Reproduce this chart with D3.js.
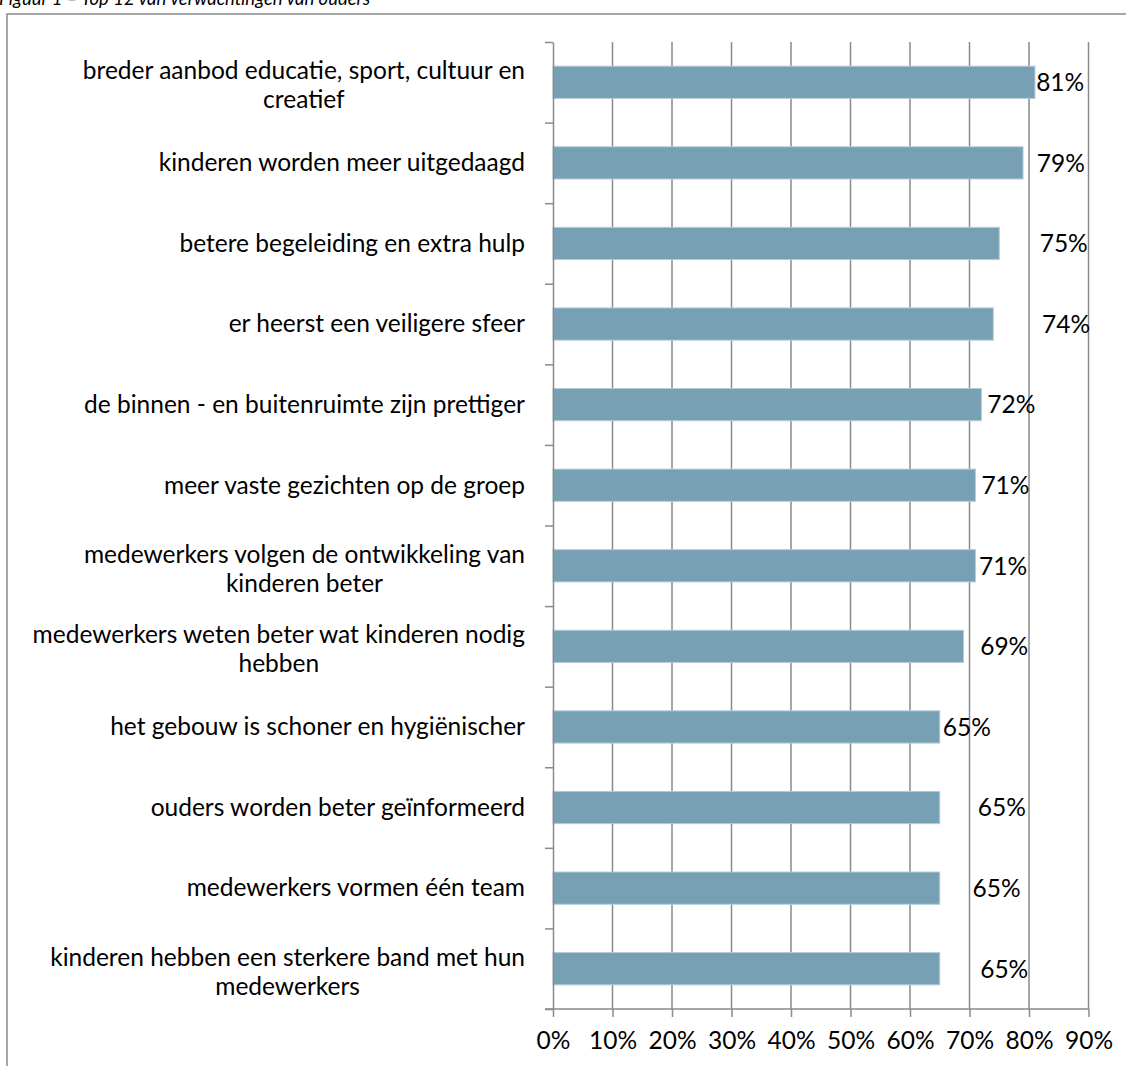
<!DOCTYPE html>
<html>
<head>
<meta charset="utf-8">
<script src="https://cdn.jsdelivr.net/npm/d3@7"></script>
<style>
  body { margin: 0; background: #fff; }
  svg { display: block; }
  text { font-family: Lato, "Open Sans", sans-serif; fill: #000; }
</style>
</head>
<body>
<script>
const w = 1126;
const h = 1066;

const title = "Figuur 1 \u2013 Top 12 van verwachtingen van ouders";

// categories, top to bottom (\n = line break as in the original)
const categories = [
    "breder aanbod educatie, sport, cultuur en\ncreatief",
    "kinderen worden meer uitgedaagd",
    "betere begeleiding en extra hulp",
    "er heerst een veiligere sfeer",
    "de binnen - en buitenruimte zijn prettiger",
    "meer vaste gezichten op de groep",
    "medewerkers volgen de ontwikkeling van\nkinderen beter",
    "medewerkers weten beter wat kinderen nodig\nhebben",
    "het gebouw is schoner en hygi\u00ebnischer",
    "ouders worden beter ge\u00efnformeerd",
    "medewerkers vormen \u00e9\u00e9n team",
    "kinderen hebben een sterkere band met hun\nmedewerkers"
];
const values = [0.81, 0.79, 0.75, 0.74, 0.72, 0.71, 0.71, 0.69, 0.65, 0.65, 0.65, 0.65];
// where each data label was placed (value units, left edge of the label)
const labelAt = [0.812, 0.813, 0.818, 0.822, 0.730, 0.720, 0.716, 0.718, 0.655, 0.714, 0.705, 0.718];
const xTicks = [0, 0.1, 0.2, 0.3, 0.4, 0.5, 0.6, 0.7, 0.8, 0.9];

const plotLeft = 553, plotRight = 1088.5, plotTop = 42, plotBottom = 1009;
const fontSize = 24.5;
const gridColor = "#8a8a8a";

const svg = d3.select("body")
    .append("svg")
    .attr("width", w)
    .attr("height", h);

// title (cut off at the top of the page, as in the original)
svg.append("text")
    .attr("x", -1)
    .attr("y", 5)
    .attr("font-size", 18.5)
    .attr("font-style", "italic")
    .text(title);

// chart frame
svg.append("rect")
    .attr("x", 7)
    .attr("y", 14)
    .attr("width", w + 20)
    .attr("height", h + 20)
    .attr("fill", "none")
    .attr("stroke", gridColor)
    .attr("stroke-width", 1.5);

const xScale = d3.scaleLinear()
    .domain([0, 0.9])
    .range([plotLeft, plotRight]);

const yScale = d3.scaleBand()
    .domain(categories)
    .range([plotTop, plotBottom])
    .paddingInner(0.6)
    .paddingOuter(0.3);

// vertical gridlines
svg.append("g")
    .selectAll("line")
    .data(xTicks.slice(1))
    .join("line")
    .attr("x1", d => xScale(d))
    .attr("x2", d => xScale(d))
    .attr("y1", plotTop)
    .attr("y2", plotBottom)
    .attr("stroke", gridColor)
    .attr("stroke-width", 1.5);

// bars
svg.append("g")
    .selectAll("rect")
    .data(values)
    .join("rect")
    .attr("x", xScale(0))
    .attr("y", (d, i) => yScale(categories[i]))
    .attr("width", d => xScale(d) - xScale(0))
    .attr("height", yScale.bandwidth())
    .attr("fill", "#78a0b5")
    .attr("stroke", "#b3ccd9")
    .attr("stroke-width", 1);

// x axis
const xAxis = d3.axisBottom(xScale)
    .tickValues(xTicks)
    .tickFormat(d3.format(".0%"))
    .tickSize(8)
    .tickSizeOuter(0)
    .tickPadding(15);

const gx = svg.append("g")
    .attr("transform", "translate(0, " + plotBottom + ")")
    .call(xAxis);
gx.select(".domain").attr("d", "M" + (plotLeft - 8) + ",0H" + plotRight)
    .attr("stroke", gridColor).attr("stroke-width", 1.5);
gx.selectAll(".tick line").attr("stroke", gridColor).attr("stroke-width", 1.5);
gx.selectAll(".tick text")
    .attr("font-size", fontSize)
    .attr("font-family", "Lato, sans-serif")
    .attr("fill", "#000");

// y axis: band boundaries as ticks
const yEdges = d3.scaleLinear().domain([0, categories.length]).range([plotTop, plotBottom]);
const yAxis = d3.axisLeft(yEdges)
    .tickValues(d3.range(categories.length + 1))
    .tickFormat("")
    .tickSize(8)
    .tickSizeOuter(0);

const gy = svg.append("g")
    .attr("transform", "translate(" + plotLeft + ", 0)")
    .call(yAxis);
gy.select(".domain").attr("stroke", gridColor).attr("stroke-width", 1.5);
gy.selectAll(".tick line").attr("stroke", gridColor).attr("stroke-width", 1.5);

// category labels: right-aligned block, lines centred within it
const labelRight = plotLeft - 28;
const lineGap = 29;
categories.forEach((c, i) => {
    const lines = c.split("\n");
    const cy = yScale(c) + yScale.bandwidth() / 2;
    const g = svg.append("g");
    const texts = lines.map((l, j) => g.append("text")
        .attr("font-size", fontSize)
        .attr("y", cy + fontSize * 0.34 + (j - (lines.length - 1) / 2) * lineGap + (lines.length > 1 ? 3 : 0))
        .text(l));
    const maxW = d3.max(texts, t => t.node().getComputedTextLength());
    texts.forEach(t => t
        .attr("text-anchor", "middle")
        .attr("x", labelRight - maxW / 2));
});

// value labels
svg.append("g")
    .selectAll("text")
    .data(values)
    .join("text")
    .attr("x", (d, i) => xScale(labelAt[i]))
    .attr("y", (d, i) => yScale(categories[i]) + yScale.bandwidth() / 2 + fontSize * 0.36)
    .attr("font-size", fontSize)
    .text(d => d3.format(".0%")(d));
</script>
</body>
</html>
